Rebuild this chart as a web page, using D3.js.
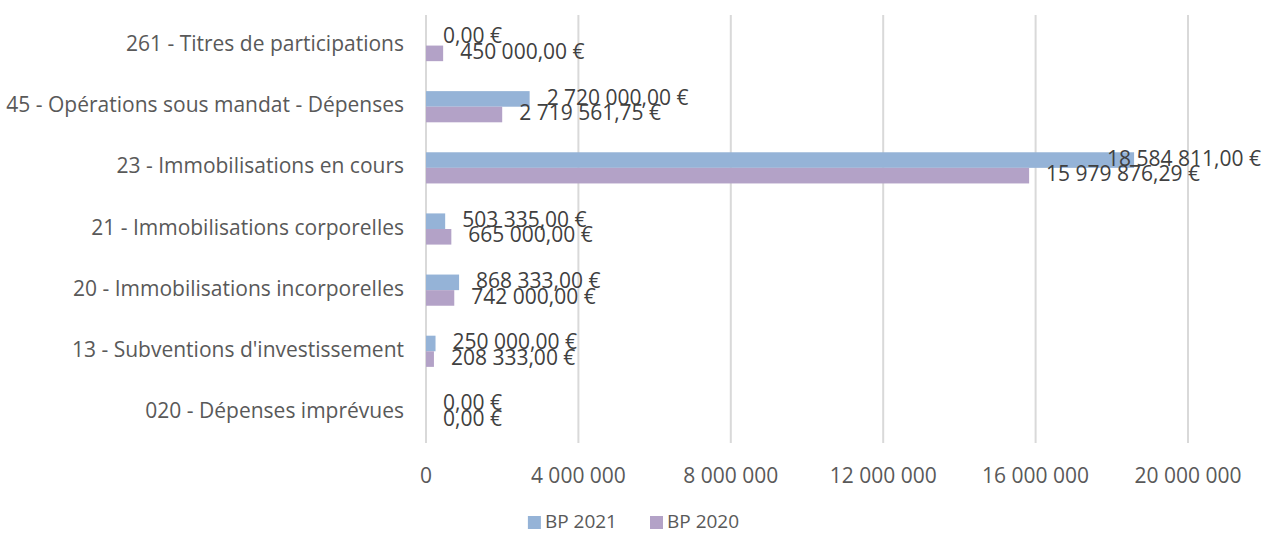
<!DOCTYPE html>
<html>
<head>
<meta charset="utf-8">
<script src="https://cdn.jsdelivr.net/npm/d3@7"></script>
<style>
  body { margin: 0; background: #fff; }
  svg text { font-family: "Open Sans", sans-serif; }
</style>
</head>
<body>
<svg id="chart" width="1267" height="537"></svg>
<script>
// Categories top to bottom
const categories = [
  "261 - Titres de participations",
  "45 - Opérations sous mandat - Dépenses",
  "23 - Immobilisations en cours",
  "21 - Immobilisations corporelles",
  "20 - Immobilisations incorporelles",
  "13 - Subventions d'investissement",
  "020 - Dépenses imprévues"
];
const seriesNames = ["BP 2021", "BP 2020"];
// bar lengths as drawn
const bp2021 = [0, 2720000, 18584811, 503335, 868333, 250000, 0];
const bp2020 = [450000, 2000000, 15830000, 665000, 742000, 208333, 0];
// data labels as printed
const labels2021 = ["0,00 €", "2 720 000,00 €", "18 584 811,00 €", "503 335,00 €", "868 333,00 €", "250 000,00 €", "0,00 €"];
const labels2020 = ["450 000,00 €", "2 719 561,75 €", "15 979 876,29 €", "665 000,00 €", "742 000,00 €", "208 333,00 €", "0,00 €"];
const xTicks = [0, 4000000, 8000000, 12000000, 16000000, 20000000];
const colors = ["#95b3d7", "#b3a2c7"];

const W = 1267, H = 537;
const plotLeft = 426, plotRight = 1188, plotTop = 15, plotBottom = 443;

const svg = d3.select("#chart");
const fr = d3.formatLocale({decimal: ",", thousands: "\u00a0", grouping: [3], currency: ["", " €"]});
const fmt = fr.format(",d");

const x = d3.scaleLinear().domain([0, 20000000]).range([plotLeft, plotRight]);
const y = d3.scaleBand().domain(categories).range([plotTop, plotBottom]).paddingInner(0.49).paddingOuter(0.245);
const ySub = d3.scaleBand().domain(seriesNames).range([0, y.bandwidth()]);

// gridlines
svg.append("g")
  .selectAll("line")
  .data(xTicks)
  .join("line")
    .attr("x1", d => x(d)).attr("x2", d => x(d))
    .attr("y1", plotTop).attr("y2", plotBottom)
    .attr("stroke", "#d9d9d9").attr("stroke-width", 2);

// x tick labels
svg.append("g")
  .selectAll("text")
  .data(xTicks)
  .join("text")
    .attr("x", d => x(d)).attr("y", 477)
    .attr("text-anchor", "middle").attr("dominant-baseline", "middle")
    .attr("font-size", 21).attr("fill", "#595959")
    .text(d => fmt(d));

// category labels
svg.append("g")
  .selectAll("text")
  .data(categories)
  .join("text")
    .attr("x", plotLeft - 22).attr("y", d => y(d) + y.bandwidth() / 2)
    .attr("text-anchor", "end").attr("dominant-baseline", "middle")
    .attr("font-size", 21).attr("fill", "#595959")
    .text(d => d);

const rows = [];
categories.forEach((c, i) => {
  rows.push({cat: c, s: seriesNames[0], v: bp2021[i], label: labels2021[i], color: colors[0]});
  rows.push({cat: c, s: seriesNames[1], v: bp2020[i], label: labels2020[i], color: colors[1]});
});

svg.append("g")
  .selectAll("rect")
  .data(rows)
  .join("rect")
    .attr("x", x(0))
    .attr("y", d => y(d.cat) + ySub(d.s))
    .attr("width", d => x(d.v) - x(0))
    .attr("height", ySub.bandwidth())
    .attr("fill", d => d.color);

// data labels
svg.append("g")
  .selectAll("text")
  .data(rows)
  .join("text")
    .attr("y", d => y(d.cat) + ySub(d.s) + ySub.bandwidth() / 2)
    .attr("dominant-baseline", "middle")
    .attr("font-size", 21).attr("fill", "#404040")
    .text(d => d.label)
    .attr("x", function(d) {
      const w = this.getComputedTextLength();
      return Math.min(x(d.v) + 17, W - 6 - w);
    });

// legend
const legend = svg.append("g");
let lx = 0;
seriesNames.forEach((s, i) => {
  const g = legend.append("g").attr("transform", `translate(${lx},0)`);
  g.append("rect").attr("x", 0).attr("y", -7).attr("width", 13).attr("height", 13).attr("fill", colors[i]);
  const t = g.append("text").attr("x", 17).attr("y", 0).attr("dominant-baseline", "middle")
    .attr("font-size", 19).attr("fill", "#595959").text(s);
  lx += 17 + t.node().getComputedTextLength() + 33;
});
const lw = lx - 33;
legend.attr("transform", `translate(${W / 2 - lw / 2},523)`);
</script>
</body>
</html>
